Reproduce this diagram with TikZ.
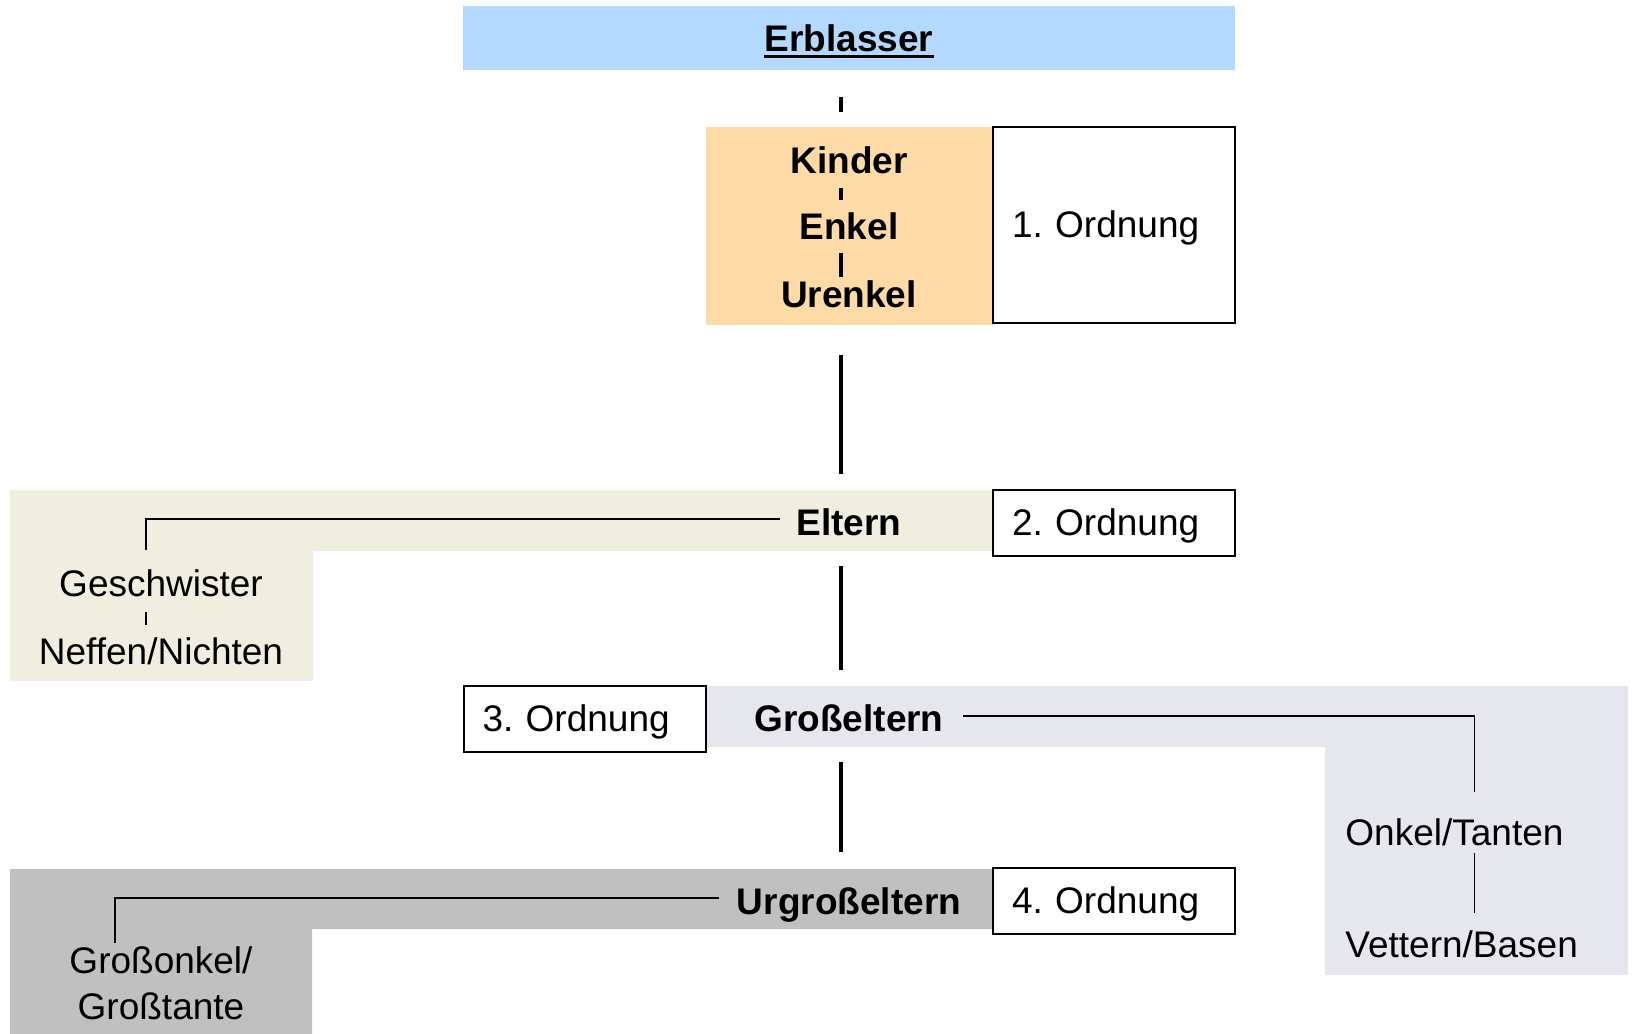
\documentclass[tikz,border=0pt]{standalone}
\usepackage{fontspec}
\setmainfont{Liberation Sans}
\definecolor{erbblue}{RGB}{179,217,255}
\definecolor{kidorange}{RGB}{253,218,166}
\definecolor{elternbg}{RGB}{240,238,223}
\definecolor{grossbg}{RGB}{230,230,238}
\definecolor{urbg}{RGB}{192,192,192}
\begin{document}
\frenchspacing
\begin{tikzpicture}[x=0.5pt,y=-0.5pt,
  txt/.style={inner sep=0pt, anchor=base, text height=13.5pt, text depth=4pt, font=\fontsize{18.5}{22}\selectfont},
  btxt/.style={txt, font=\fontsize{18.5}{22}\selectfont\bfseries},
  ordbox/.style={draw=black, line width=1pt, fill=white, inner xsep=9.5pt, inner ysep=0pt, text width=102pt, align=left, font=\fontsize{18.5}{22}\selectfont, text height=13.5pt, text depth=1pt},
  band/.style={inner sep=0pt, draw=none},
  spine/.style={line width=2pt},
  branch/.style={line width=0.9pt}]
\useasboundingbox (0,0) rectangle (1635,1034);

% bands
\node[band, fill=erbblue, minimum width=386pt, minimum height=32pt] (erbband) at (849,38) {};
\node[band, fill=kidorange, minimum width=143.5pt, minimum height=99pt] (kbox) at (849,226) {};
\fill[elternbg] (10,490) -- (992,490) -- (992,551) -- (313,551) -- (313,681) -- (10,681) -- cycle;
\fill[grossbg] (706,686) -- (1628,686) -- (1628,975) -- (1325,975) -- (1325,747) -- (706,747) -- cycle;
\fill[urbg] (10,869) -- (992,869) -- (992,929) -- (312,929) -- (312,1034) -- (10,1034) -- cycle;

% Ordnung boxes
\node[ordbox, minimum height=98pt] (o1) at (1114,225) {1.\ Ordnung};
\node[ordbox, minimum height=33pt] (o2) at (1114,523) {2.\ Ordnung};
\node[ordbox, minimum height=33pt] (o3) at (584.5,719) {3.\ Ordnung};
\node[ordbox, minimum height=33pt] (o4) at (1114,901) {4.\ Ordnung};

% texts
\node[btxt] (erb) at (849,51) {Erblasser};
\draw[line width=1.5pt] ([yshift=1.5pt]erb.south west) -- ([yshift=1.5pt]erb.south east);
\node[btxt] (kinder) at (849,173) {Kinder};
\node[btxt] (enkel) at (849,239) {Enkel};
\node[btxt] (urenkel) at (849,307) {Urenkel};
\node[btxt] (eltern) at (849,535) {Eltern};
\node[txt] (gesch) at (161,596) {Geschwister};
\node[txt] (neffen) at (161,664) {Neffen/Nichten};
\node[btxt] (gross) at (849,731) {Großeltern};
\node[txt, anchor=base west] (onkel) at (1345,845) {Onkel/Tanten};
\node[txt, anchor=base west] (vettern) at (1345,957) {Vettern/Basen};
\node[btxt] (urgross) at (849,914) {Urgroßeltern};
\node[txt] (go1) at (161,973) {Großonkel/};
\node[txt] (go2) at (161,1019) {Großtante};

% spine
\draw[spine] ([xshift=-4pt,yshift=-13.5pt]erbband.south) -- ([xshift=-4pt,yshift=7.5pt]kbox.north);
\draw[spine] ([xshift=-4pt,yshift=-3.5pt]kinder.south) -- ([xshift=-4pt,yshift=6pt]enkel.north);
\draw[spine] ([xshift=-4pt,yshift=-3pt]enkel.south) -- ([xshift=-4pt,yshift=1.5pt]urenkel.north);
\draw[spine] ([xshift=-4pt,yshift=-15pt]kbox.south) -- ([xshift=-4pt,yshift=17pt]eltern.north);
\draw[spine] ([xshift=-4pt,yshift=-11.5pt]eltern.south) -- ([xshift=-4pt,yshift=17pt]gross.north);
\draw[spine] ([xshift=-4pt,yshift=-11.5pt]gross.south) -- ([xshift=-4pt,yshift=17.5pt]urgross.north);

% branches
\draw[branch] ([xshift=-8pt,yshift=3.25pt]eltern.west) -| ([xshift=-7.5pt,yshift=9.5pt]gesch.north);
\draw[branch] ([xshift=-7.5pt,yshift=-4pt]gesch.south) -- ([xshift=-7.5pt,yshift=6pt]neffen.north);
\draw[branch] ([xshift=9.5pt,yshift=2.75pt]gross.east) -| ([xshift=10pt,yshift=13pt]onkel.north);
\draw[branch] ([xshift=10pt]onkel.south) -- ++(0,60);
\draw[branch] ([xshift=-9pt,yshift=3.25pt]urgross.west) -| ([xshift=-23pt,yshift=1.5pt]go1.north);
\end{tikzpicture}
\end{document}
